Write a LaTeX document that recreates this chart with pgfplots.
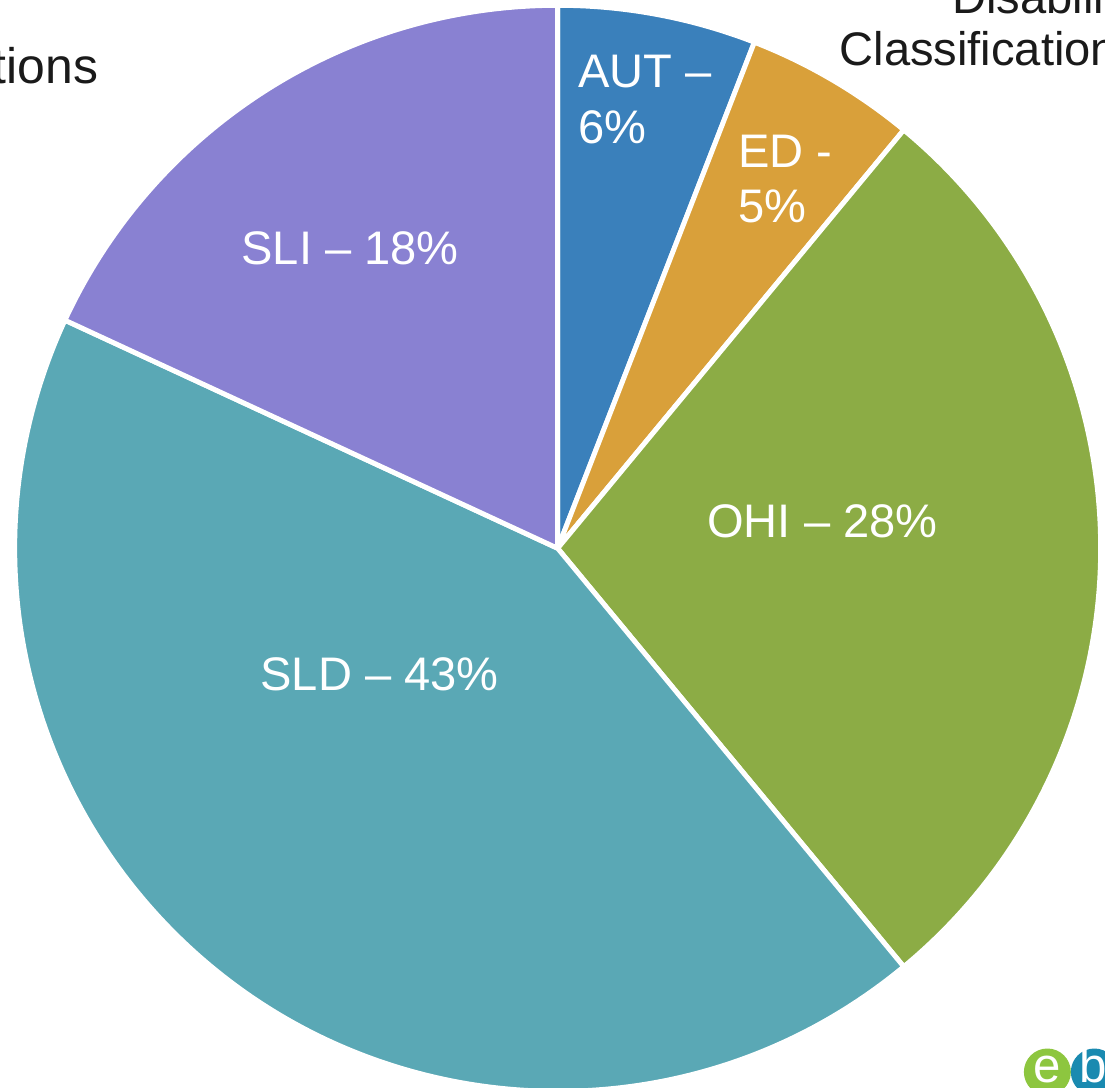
\documentclass[border=0pt]{standalone}
\usepackage{pgfplots}
\pgfplotsset{compat=1.18}
\usepackage{fontspec}
\setmainfont{Liberation Sans}
\definecolor{cAUT}{HTML}{3A80BB}
\definecolor{cED}{HTML}{D9A03A}
\definecolor{cOHI}{HTML}{8CAC45}
\definecolor{cSLD}{HTML}{5AA8B5}
\definecolor{cSLI}{HTML}{8981D2}
\definecolor{txt}{HTML}{1A1A1A}
\definecolor{logoG}{HTML}{8DC63F}
\definecolor{logoB}{HTML}{1A8AB0}
% shares (percent)
\def\pAUT{5.9}\def\pED{5.1}\def\pOHI{28.0}\def\pSLD{42.9}\def\pSLI{18.1}
\pgfmathsetmacro\aA{90}
\pgfmathsetmacro\aB{\aA-3.6*\pAUT}
\pgfmathsetmacro\aC{\aB-3.6*\pED}
\pgfmathsetmacro\aD{\aC-3.6*\pOHI}
\pgfmathsetmacro\aE{\aD-3.6*\pSLD}
\pgfmathsetmacro\aF{\aE-3.6*\pSLI}
\newcommand\lab{\fontsize{13.4pt}{16pt}\selectfont}
\begin{document}
\begin{tikzpicture}
\useasboundingbox (0,0) rectangle (11.05,10.88);
\clip (0,0) rectangle (11.05,10.88);
\begin{axis}[at={(0,0)}, anchor=south west, x=0.01cm, y=0.01cm,
  xmin=0, xmax=1105, ymin=0, ymax=1088, hide axis, clip=false]
\addplot[draw=none] coordinates {(0,0) (1105,1088)};
\def\wedge#1#2#3{\filldraw[fill=#1, draw=white, line width=1.4pt, line join=round]
  (axis cs:558,540) -- ++(#2:5.43cm) arc[start angle=#2, end angle=#3, radius=5.43cm] -- cycle;}
\wedge{cAUT}{\aA}{\aB}
\wedge{cED}{\aB}{\aC}
\wedge{cOHI}{\aC}{\aD}
\wedge{cSLD}{\aD}{\aE}
\wedge{cSLI}{\aE}{\aF}
\node[anchor=base west, text=white, font=\lab, inner sep=0] at (axis cs:578,1001) {AUT –};
\node[anchor=base west, text=white, font=\lab, inner sep=0] at (axis cs:578,945) {6\%};
\node[anchor=base west, text=white, font=\lab, inner sep=0] at (axis cs:738,921) {ED -};
\node[anchor=base west, text=white, font=\lab, inner sep=0] at (axis cs:738,866) {5\%};
\node[anchor=base west, text=white, font=\lab, inner sep=0] at (axis cs:241,824) {SLI – 18\%};
\node[anchor=base west, text=white, font=\lab, inner sep=0] at (axis cs:260,398) {SLD – 43\%};
\node[anchor=base west, text=white, font=\lab, inner sep=0] at (axis cs:707,551) {OHI – 28\%};
\node[anchor=base east, text=txt, font=\lab, inner sep=0] at (axis cs:1142,1075) {Disability};
\node[anchor=base east, text=txt, font=\lab, inner sep=0] at (axis cs:1142,1023) {Classifications};
\node[anchor=base east, text=txt, font=\fontsize{14.2pt}{16pt}\selectfont, inner sep=0] at (axis cs:99,1005) {Classifications};
\fill[logoG] (axis cs:1048,16) circle[radius=0.235cm];
\fill[logoB] (axis cs:1095,16) circle[radius=0.235cm];
\node[text=white, font=\fontsize{14pt}{14pt}\selectfont, inner sep=0] at (axis cs:1048,19) {e};
\node[text=white, font=\fontsize{14pt}{14pt}\selectfont, inner sep=0] at (axis cs:1094,23) {b};
\end{axis}
\end{tikzpicture}
\end{document}
